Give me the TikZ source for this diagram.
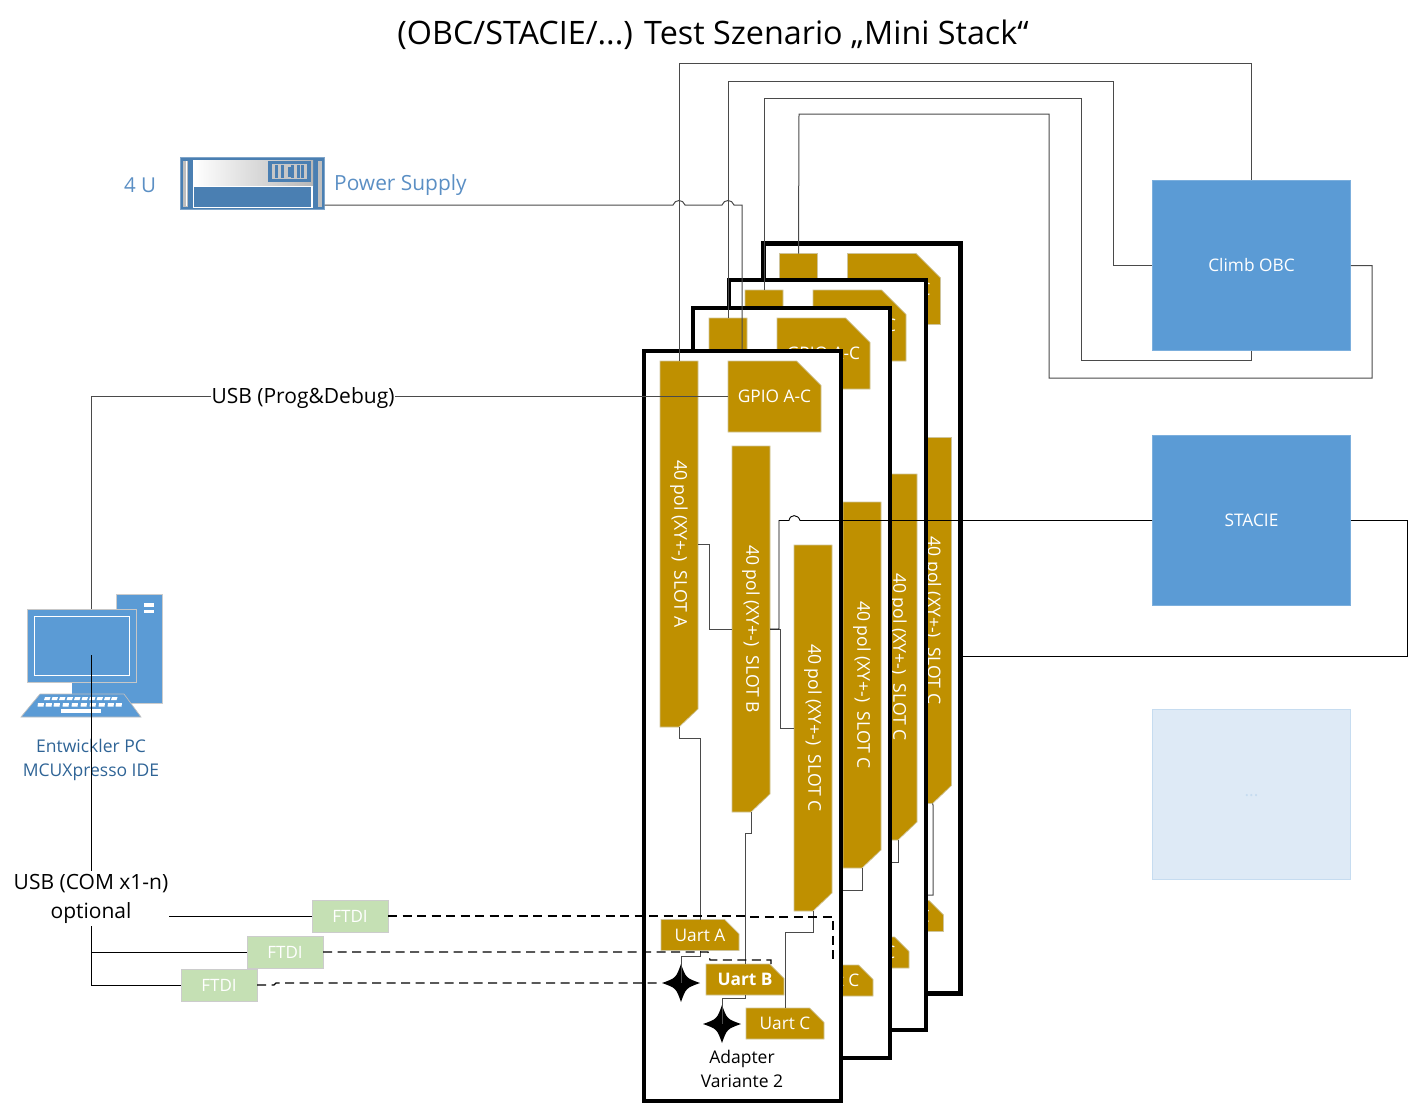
\documentclass[tikz,border=0pt]{standalone}
\usepackage{fontspec}
\setmainfont{Open Sans}
\usetikzlibrary{shapes.misc,calc}
\definecolor{gold}{HTML}{BF9000}
\definecolor{goldedge}{HTML}{CFC49A}
\definecolor{bluebox}{HTML}{5B9BD5}
\definecolor{paleblue}{HTML}{DEEAF6}
\definecolor{greenbox}{HTML}{C5E0B4}
\definecolor{labelblue}{HTML}{5B8FC4}
\definecolor{pcblue}{HTML}{2F6496}
\definecolor{rackblue}{HTML}{4A7FB2}
\definecolor{wire}{HTML}{4A4A4A}
\tikzset{
  goldbox/.style={shape=chamfered rectangle,chamfered rectangle corners=north east,
    fill=gold,draw=goldedge,line width=.7pt,text=white,inner sep=0pt,outer sep=0pt},
  bigchamfer/.style={chamfered rectangle xsep=18pt,chamfered rectangle ysep=18pt},
  smallchamfer/.style={chamfered rectangle xsep=8pt,chamfered rectangle ysep=8pt},
  slotbox/.style={rotate=-90,minimum width=366pt,minimum height=38pt,inner sep=0pt,outer sep=0pt,text=white,font=\fontsize{17.6}{20}\selectfont},
  slotfill/.style={fill=gold,draw=goldedge,line width=.7pt},
  gpiobox/.style={goldbox,bigchamfer,minimum width=93pt,minimum height=71pt,font=\fontsize{17.3}{20}\selectfont},
  uartbox/.style={goldbox,smallchamfer,minimum width=78pt,minimum height=31pt,font=\fontsize{17.3}{20}\selectfont},
  cardbox/.style={draw=black,fill=white,line width=4.2pt,minimum width=197pt,minimum height=750pt,inner sep=0pt,outer sep=0pt},
  sysbox/.style={fill=bluebox,draw=bluebox!80!white,line width=.7pt,text=white,minimum width=198pt,minimum height=170pt,inner sep=0pt,font=\fontsize{17.3}{20}\selectfont},
  ftdibox/.style={fill=greenbox,draw=black!20,line width=.7pt,text=white,minimum width=76pt,minimum height=32pt,inner sep=0pt,outer sep=0pt,font=\fontsize{17}{20}\selectfont},
  conn/.style={draw=wire,line width=1pt},
  dashconn/.style={draw=black,line width=1.2pt,dash pattern=on 9pt off 5.5pt},
  darkconn/.style={draw=black,line width=.9pt},
  caption/.style={inner sep=0pt,align=center,font=\fontsize{21}{29}\selectfont},
}
\newcommand{\slotshape}[4]{%
  \path[slotfill] (#2-19,#3-183) -- (#2+19,#3-183) -- (#2+19,#3+165) -- (#2,#3+183) -- (#2-19,#3+183) -- cycle;
  \node[slotbox] (#1) at (#2,#3) {#4};}
\newcommand{\rearcard}[4]{%
  \begin{scope}[shift={(#2,#3)}]
    \node[cardbox] (card#1) at (742.5,726) {};
    \slotshape{slotA#1}{679}{544}{40 pol (XY+-)\ \ SLOT A}
    \node[gpiobox] (gpio#1) at (774.5,396.5) {GPIO A-C};
    \slotshape{slotC#1}{813}{728}{40 pol (XY+-)\ \ SLOT C}
    \node[uartbox] (uartC#1) at (785,1023.5) {Uart C};
  \end{scope}
  #4}
\newcommand{\fourstar}[3]{%
  \coordinate (#1) at (#2,#3);
  \fill[black] (#2,#3-19) .. controls (#2+5,#3-5) .. (#2+19,#3)
     .. controls (#2+5,#3+5) .. (#2,#3+19)
     .. controls (#2-5,#3+5) .. (#2-19,#3)
     .. controls (#2-5,#3-5) .. (#2,#3-19) -- cycle;}
\begin{document}
\begin{tikzpicture}[x=1pt,y=-1pt]
\useasboundingbox (0,0) rectangle (1409,1114);
\node[inner sep=0pt,font=\fontsize{32.3}{36}\selectfont] (title) at (713,34.5) {(OBC/STACIE/...) Test Szenario „Mini Stack“};

% systems
\node[sysbox] (obc) at (1251.5,265.5) {Climb OBC};
\node[sysbox] (stacie) at (1251.5,520.5) {STACIE};
\node[sysbox,fill=paleblue,draw=bluebox!35!white,text=bluebox!35!white] (faded) at (1251.5,794.5) {\raisebox{-4pt}{...}};

% power supply
\node[fill=rackblue,draw=rackblue!70!white,line width=.7pt,minimum width=144pt,minimum height=52pt,inner sep=0pt,outer sep=0pt] (psu) at (252.5,183.5) {};
\fill[black!25] (183,161) rectangle (188,207);
\fill[black!25] (318,161) rectangle (322,207);
\fill[white] (186,161) rectangle (187,206);
\shade[left color=white,right color=black!28] (193,160) rectangle (313,186);
\fill[white] (193,186) rectangle (313,208);
\fill[rackblue] (194,187) rectangle (311,207);
\fill[rackblue] (268,161) rectangle (311,182);
\fill[black!22] (272,164) rectangle (307,179);
\foreach \xx in {275,281,291,297,301}{\fill[rackblue] (\xx,165) rectangle (\xx+3,178);}
\fill[rackblue] (288,167) rectangle (292,177);
\node[inner sep=0pt,text=labelblue,font=\fontsize{20.5}{24}\selectfont] (fouru) at (140,185) {4 U};
\node[inner sep=0pt,text=labelblue,font=\fontsize{20.9}{24}\selectfont,anchor=west] (psutext) at (334,185) {Power Supply};

% USB prog line under the PC
\node[inner sep=0pt,outer sep=0pt,minimum width=109pt,minimum height=73pt] (monitorpos) at (81.5,645.5) {};
\coordinate (pcwire) at (91,655);

% rear cards
\rearcard{D}{119.5}{-107.5}{\draw[conn] (slotCD.east) -- (933,805) -- (933,895) -- (920,895);}
\rearcard{C}{85}{-71}{\draw[conn] (slotCC.east) -- (898,862) -- (885,862);}
\rearcard{B}{49}{-43}{\draw[conn] (slotCB.east) -- (862,890) -- (835,890);}
\draw[conn] (psu.east |- 0,205) -- (673,205) .. controls (675,199) and (683,199) .. (685,205)
  -- (722,205) .. controls (724,199) and (732,199) .. (734,205) -- (742,205) -- (742,349);

% front card
\node[cardbox] (cardA) at (742.5,726) {};
\slotshape{slotA}{679}{544}{40 pol (XY+-)\ \ SLOT A}
\node[gpiobox] (gpio) at (774.5,396.5) {GPIO A-C};
\slotshape{slotB}{751}{629}{40 pol (XY+-)\ \ SLOT B}
\slotshape{slotC}{813}{728}{40 pol (XY+-)\ \ SLOT C}
\node[uartbox] (uartA) at (700,935) {Uart A};
\node[uartbox,font=\fontsize{17.3}{20}\selectfont\bfseries] (uartB) at (745,979.5) {Uart B};
\node[uartbox] (uartC) at (785,1023.5) {Uart C};
\fourstar{starA}{681}{983}
\fourstar{starB}{722}{1024}
\node[inner sep=0pt,align=center,font=\fontsize{17.5}{24}\selectfont] (adapter) at (742,1069) {Adapter\\Variante 2};

% slot chain
\draw[conn] (slotA.north) -- (709,544) -- (709,629) -- (slotB.south);
\draw[conn] (slotB.north) -- (780,629) -- (780,728) -- (slotC.south);
\draw[conn] (slotA.east) -- (679,738) -- (700,738) -- (uartA.north);
\draw[conn] (slotB.east) -- (751,833) -- (745,833) -- (uartB.north);
\draw[conn] (slotC.east) -- (813,932) -- (785,932) -- (uartC.north);
\draw[conn] (uartA.south) -- (700,956.5) -- (681,956.5) -- (starA);
\draw[conn] (uartB.south) -- (745,998.5) -- (722,998.5) -- (starB);

% links to the systems
\draw[conn] (slotA.west) -- (679,63.5) -- (1251.5,63.5) -- (obc.north);
\draw[conn] (slotAB.west) -- (728,81) -- (1113,81) -- (1113,265.5) -- (obc.west);
\draw[conn] (slotAC.west) -- (764,98) -- (1081,98) -- (1081,360) -- (1251.5,360) -- (obc.south);
\draw[conn] (slotAD.west) -- (799,114) -- (1049,114) -- (1049,378) -- (1372,378) -- (1372,265.5) -- (obc.east);
\draw[darkconn] (slotB.north) -- (779,629) -- (779,520.5) -- (789,520.5) .. controls (790,514) and (798,514) .. (800,520.5) -- (stacie.west);
\draw[darkconn] (stacie.east) -- (1407,520.5) -- (1407,656.5) -- (cardD.east |- 0,656.5);

% USB
\draw[conn] (gpio.west) -- (91,396.5) -- (monitorpos.north -| pcwire);
\node[caption,fill=white,inner xsep=1pt,inner ysep=2pt] (usbprog) at (303,398) {USB (Prog\&Debug)};

% PC
\fill[bluebox] (116.5,594) rectangle (162,703);
\draw[black!20,line width=.7pt] (116.5,594) rectangle (162,703);
\fill[white] (144,603) rectangle (154,606.5);
\fill[white] (144,609.5) rectangle (154,613);
\fill[bluebox] (72,680) rectangle (116.5,695);
\fill[bluebox,draw=black!25,line width=.7pt] (40,694) -- (124,694) -- (141,717) -- (21,717) -- cycle;
\foreach \kx in {45,52.5,60,67.5,75,82.5,90,97.5,105,112}{\fill[white] (\kx,697) -- (\kx+5.5,697) -- (\kx+4.5,700) -- (\kx-1,700) -- cycle;}
\foreach \kx in {38,46,54,63,72,81,90,99,108,116}{\fill[white] (\kx,703) -- (\kx+6,703) -- (\kx+5.5,706.5) -- (\kx-.5,706.5) -- cycle;}
\fill[white] (61,709) rectangle (101,712.5);
\node[fill=bluebox,draw=black!22,line width=1pt,minimum width=109pt,minimum height=73pt,inner sep=0pt] (monitor) at (81.5,645.5) {};
\draw[white,line width=.9pt] (34.5,616.5) rectangle (129,675);
\node[inner sep=0pt,align=center,text=pcblue,font=\fontsize{17.5}{24}\selectfont] (pclabel) at (91,760) {Entwickler PC\\MCUXpresso IDE};

% COM
\node[ftdibox] (ftdiA) at (350,916) {FTDI};
\node[ftdibox] (ftdiB) at (285,952) {FTDI};
\node[ftdibox] (ftdiC) at (219,985) {FTDI};
\node[caption,fill=white,inner xsep=1pt,inner ysep=3pt] (usbcom) at (91,898.5) {USB (COM x1-n)\\optional};
\draw[darkconn] (pcwire) -- (usbcom.north -| pcwire);
\draw[darkconn] (usbcom.south -| pcwire) -- (pcwire |- ftdiC.west) -- (ftdiC.west);
\draw[darkconn] (pcwire |- ftdiB.west) -- (ftdiB.west);
\draw[darkconn] (usbcom.east |- ftdiA.west) -- (ftdiA.west);

\draw[dashconn] (ftdiA.east) -- (746,916) -- (750,917) -- (833,917) -- (833,963);
\draw[dashconn] (ftdiB.east) -- (708,952) -- (710,960) -- (771,960) -- (771,964);
\draw[dashconn] (ftdiC.east) -- (274,985) -- (276,983) -- (starA -| 662,0);
\end{tikzpicture}
\end{document}
